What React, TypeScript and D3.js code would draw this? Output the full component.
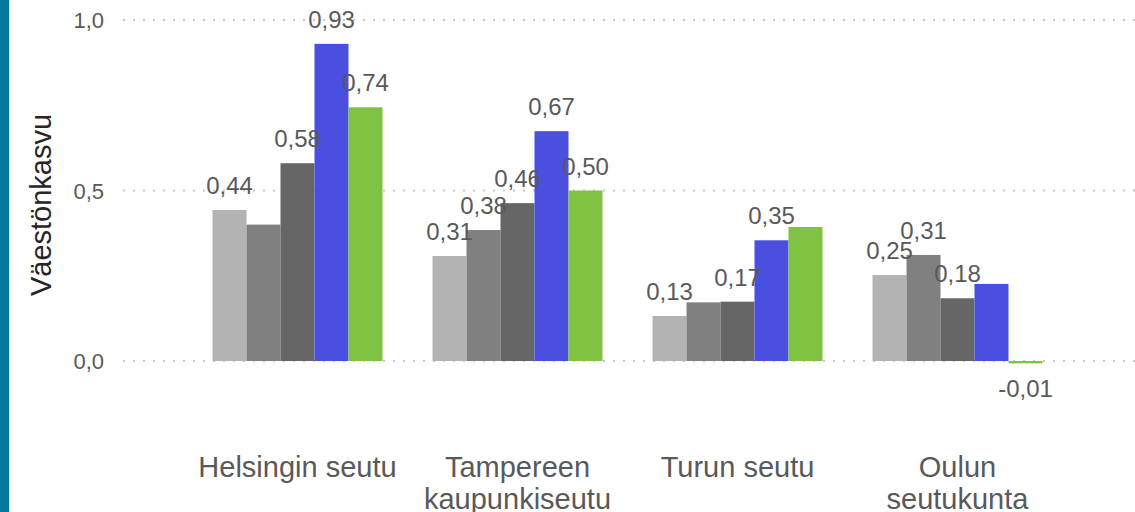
import React from "react";
import * as d3 from "d3";

const categories: string[][] = [
  ["Helsingin seutu"],
  ["Tampereen", "kaupunkiseutu"],
  ["Turun seutu"],
  ["Oulun", "seutukunta"],
];
const seriesNames = ["s1", "s2", "s3", "s4", "s5"];
const seriesColors = ["#b3b3b3", "#808080", "#666666", "#4b4fdf", "#80c242"];
const helsinki = [0.443, 0.4, 0.58, 0.93, 0.744];
const tampere = [0.308, 0.384, 0.463, 0.674, 0.5];
const turku = [0.132, 0.172, 0.174, 0.354, 0.393];
const oulu = [0.252, 0.311, 0.184, 0.226, -0.007];
const values = [helsinki, tampere, turku, oulu];
const labelShown = [
  [true, false, true, true, true],
  [true, true, true, true, true],
  [true, false, true, true, false],
  [true, true, true, false, true],
];
const yTicks = [0, 0.5, 1.0];

const W = 1135;
const H = 512;

export default function App() {
  const y = d3.scaleLinear().domain([0, 1]).range([361, 20]);
  const x = d3
    .scaleBand<number>()
    .domain(categories.map((_, i) => i))
    .range([187.5, 1067.5])
    .paddingInner(50 / 220)
    .paddingOuter(25 / 220);
  const xs = d3
    .scaleBand<string>()
    .domain(seriesNames)
    .range([0, x.bandwidth()])
    .padding(0);
  const fmt = (v: number) => d3.format(".2f")(v).replace(".", ",").replace("−", "-");
  const font = "'Liberation Sans', Arial, sans-serif";

  return (
    <svg
      width={W}
      height={H}
      style={{ position: "absolute", left: 0, top: 0, background: "#fff" }}
      fontFamily={font}
    >
      <rect x={0} y={0} width={9} height={H} fill="#007a9c" />
      <rect x={9} y={0} width={1} height={H} fill="#cfe6f2" />
      {yTicks.map((t) => (
        <g key={t}>
          <line
            x1={123}
            x2={W}
            y1={y(t)}
            y2={y(t)}
            stroke="#c8c8c8"
            strokeWidth={2}
            strokeDasharray="2 8"
          />
          <text x={104} y={y(t) + 8} textAnchor="end" fontSize={22} fill="#595959">
            {d3.format(".1f")(t).replace(".", ",")}
          </text>
        </g>
      ))}
      <text
        transform={`translate(51,205) rotate(-90)`}
        textAnchor="middle"
        fontSize={29}
        fill="#262626"
      >
        Väestönkasvu
      </text>
      {values.map((vals, ci) => (
        <g key={ci} transform={`translate(${x(ci)},0)`}>
          {vals.map((v, si) => (
            <rect
              key={si}
              x={xs(seriesNames[si])}
              y={Math.min(y(v), y(0))}
              width={xs.bandwidth()}
              height={Math.abs(y(v) - y(0))}
              fill={seriesColors[si]}
            />
          ))}
          {vals.map((v, si) =>
            labelShown[ci][si] ? (
              <text
                key={"l" + si}
                x={(xs(seriesNames[si]) as number) + xs.bandwidth() / 2}
                y={v >= 0 ? y(v) - 16 : y(v) + 34}
                textAnchor="middle"
                fontSize={24}
                fill="#595959"
              >
                {fmt(v)}
              </text>
            ) : null
          )}
          {categories[ci].map((line, li) => (
            <text
              key={"c" + li}
              x={x.bandwidth() / 2}
              y={477 + li * 32}
              textAnchor="middle"
              fontSize={29}
              fill="#595959"
            >
              {line}
            </text>
          ))}
        </g>
      ))}
    </svg>
  );
}
